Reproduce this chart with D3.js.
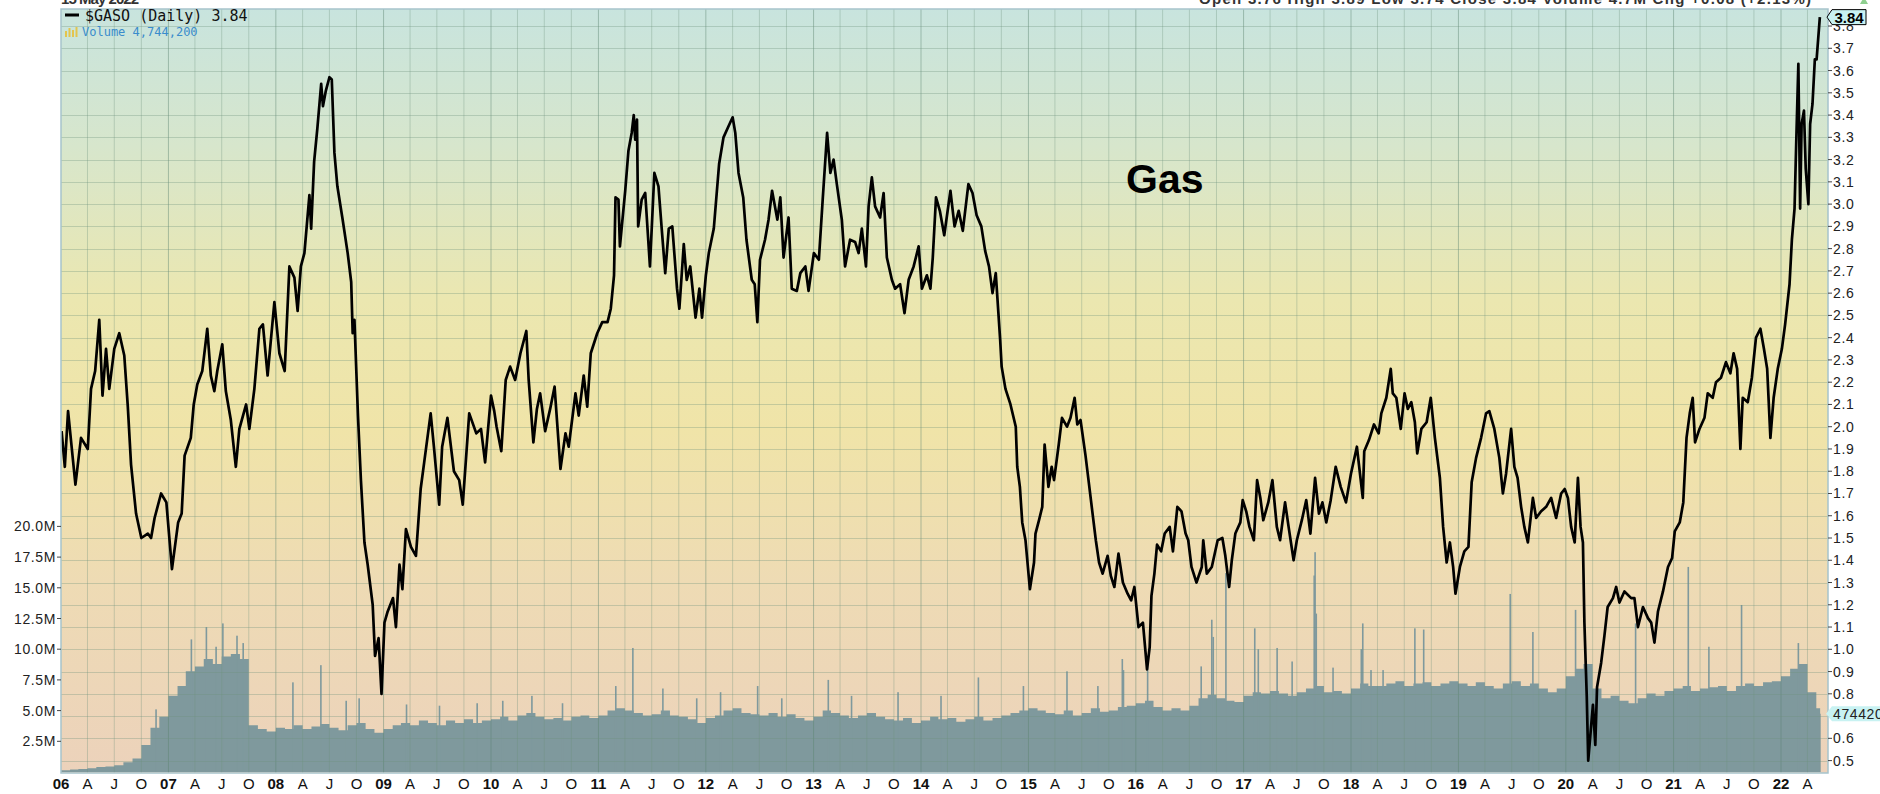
<!DOCTYPE html>
<html><head><meta charset="utf-8">
<script src="https://cdn.jsdelivr.net/npm/d3@7/dist/d3.min.js"></script>
<style>body{margin:0;background:#fff}svg{display:block}</style>
</head><body>
<svg id="chart" width="1880" height="794"></svg>
<script>
// ---------------- DATA ----------------
const price2006_2009 = [["2006-01-03",1.98],["2006-01-14",1.82],["2006-01-25",2.07],["2006-02-19",1.74],["2006-03-10",1.95],["2006-04-02",1.90],["2006-04-13",2.17],["2006-04-27",2.25],["2006-05-11",2.48],["2006-05-22",2.14],["2006-06-03",2.35],["2006-06-14",2.17],["2006-07-01",2.35],["2006-07-18",2.42],["2006-08-04",2.32],["2006-08-16",2.09],["2006-08-27",1.83],["2006-09-13",1.61],["2006-10-01",1.50],["2006-10-23",1.52],["2006-11-03",1.50],["2006-11-15",1.59],["2006-12-07",1.70],["2006-12-25",1.66],["2007-01-13",1.36],["2007-02-03",1.57],["2007-02-15",1.61],["2007-02-25",1.87],["2007-03-18",1.95],["2007-03-28",2.10],["2007-04-09",2.19],["2007-04-26",2.25],["2007-05-13",2.44],["2007-05-25",2.23],["2007-06-06",2.16],["2007-06-16",2.25],["2007-07-03",2.37],["2007-07-15",2.16],["2007-08-01",2.03],["2007-08-18",1.82],["2007-08-30",1.99],["2007-09-22",2.10],["2007-10-03",1.99],["2007-10-20",2.17],["2007-11-06",2.44],["2007-11-18",2.46],["2007-12-04",2.23],["2007-12-27",2.56],["2008-01-13",2.33],["2008-01-31",2.25],["2008-02-16",2.72],["2008-03-04",2.67],["2008-03-15",2.52],["2008-03-26",2.72],["2008-04-07",2.78],["2008-04-24",3.04],["2008-04-30",2.89],["2008-05-10",3.19],["2008-05-21",3.34],["2008-06-03",3.54],["2008-06-09",3.44],["2008-06-19",3.51],["2008-07-01",3.57],["2008-07-09",3.56],["2008-07-18",3.23],["2008-07-28",3.08],["2008-08-15",2.93],["2008-09-01",2.78],["2008-09-13",2.65],["2008-09-18",2.42],["2008-09-24",2.48],["2008-10-06",2.05],["2008-10-16",1.76],["2008-10-28",1.48],["2008-11-08",1.38],["2008-11-25",1.20],["2008-12-03",0.97],["2008-12-15",1.05],["2008-12-25",0.80],["2009-01-04",1.12],["2009-01-15",1.17],["2009-02-02",1.23],["2009-02-12",1.10],["2009-02-24",1.38],["2009-03-06",1.27],["2009-03-18",1.54],["2009-04-04",1.46],["2009-04-21",1.42],["2009-05-07",1.72],["2009-05-19",1.84],["2009-06-10",2.06],["2009-06-21",1.91],["2009-07-09",1.65],["2009-07-19",1.91],["2009-08-06",2.04],["2009-08-28",1.80],["2009-09-15",1.76],["2009-09-27",1.65],["2009-10-19",2.06],["2009-11-12",1.97],["2009-11-28",1.99],["2009-12-12",1.84]];

const price2010_2013 = [["2010-01-01",2.14],["2010-01-12",2.07],["2010-01-20",2.00],["2010-02-05",1.89],["2010-02-20",2.21],["2010-03-07",2.27],["2010-03-24",2.21],["2010-04-11",2.33],["2010-05-01",2.43],["2010-05-09",2.21],["2010-05-25",1.93],["2010-06-06",2.08],["2010-06-17",2.15],["2010-07-04",1.98],["2010-07-21",2.08],["2010-08-05",2.18],["2010-08-25",1.81],["2010-09-11",1.97],["2010-09-22",1.91],["2010-10-15",2.15],["2010-10-26",2.05],["2010-11-12",2.23],["2010-11-24",2.09],["2010-12-06",2.33],["2010-12-28",2.42],["2011-01-14",2.47],["2011-02-01",2.47],["2011-02-12",2.53],["2011-02-23",2.68],["2011-02-28",3.03],["2011-03-10",3.02],["2011-03-15",2.81],["2011-04-02",3.06],["2011-04-13",3.24],["2011-04-24",3.32],["2011-05-01",3.40],["2011-05-06",3.29],["2011-05-12",3.38],["2011-05-16",2.90],["2011-05-28",3.02],["2011-06-09",3.05],["2011-06-25",2.72],["2011-07-10",3.14],["2011-07-24",3.08],["2011-08-04",2.89],["2011-08-16",2.69],["2011-08-28",2.89],["2011-09-09",2.90],["2011-09-25",2.62],["2011-10-03",2.53],["2011-10-18",2.82],["2011-10-28",2.66],["2011-11-09",2.72],["2011-11-27",2.49],["2011-12-10",2.62],["2011-12-19",2.49],["2012-01-01",2.68],["2012-01-11",2.78],["2012-01-28",2.89],["2012-02-15",3.18],["2012-03-01",3.30],["2012-03-18",3.35],["2012-04-01",3.39],["2012-04-10",3.32],["2012-04-21",3.14],["2012-05-07",3.03],["2012-05-18",2.84],["2012-06-05",2.66],["2012-06-15",2.64],["2012-06-24",2.47],["2012-07-03",2.75],["2012-07-20",2.84],["2012-08-01",2.93],["2012-08-13",3.06],["2012-08-31",2.93],["2012-09-10",3.03],["2012-09-21",2.76],["2012-10-08",2.94],["2012-10-19",2.62],["2012-11-05",2.61],["2012-11-17",2.69],["2012-12-04",2.72],["2012-12-15",2.61],["2013-01-02",2.78],["2013-01-19",2.75],["2013-02-01",3.02],["2013-02-16",3.32],["2013-02-27",3.14],["2013-03-10",3.20],["2013-03-21",3.09],["2013-04-07",2.93],["2013-04-18",2.72],["2013-05-05",2.84],["2013-05-22",2.83],["2013-06-03",2.78],["2013-06-14",2.89],["2013-06-28",2.72],["2013-07-07",2.99],["2013-07-18",3.12],["2013-07-29",2.99],["2013-08-15",2.94],["2013-08-27",3.05],["2013-09-07",2.76],["2013-09-24",2.66],["2013-10-05",2.62],["2013-10-22",2.64],["2013-11-06",2.51],["2013-11-20",2.66],["2013-12-07",2.72],["2013-12-24",2.81]];

const price2014_2017 = [["2014-01-04",2.62],["2014-01-21",2.68],["2014-02-02",2.62],["2014-02-10",2.76],["2014-02-21",3.03],["2014-03-06",2.97],["2014-03-21",2.86],["2014-04-11",3.06],["2014-04-25",2.90],["2014-05-09",2.97],["2014-05-23",2.88],["2014-06-11",3.09],["2014-06-25",3.05],["2014-07-09",2.95],["2014-07-25",2.90],["2014-08-07",2.79],["2014-08-20",2.72],["2014-09-01",2.60],["2014-09-12",2.69],["2014-09-27",2.39],["2014-10-02",2.27],["2014-10-15",2.17],["2014-11-01",2.10],["2014-11-19",2.00],["2014-11-24",1.82],["2014-12-03",1.73],["2014-12-11",1.57],["2014-12-22",1.49],["2015-01-06",1.27],["2015-01-20",1.39],["2015-01-25",1.52],["2015-02-06",1.58],["2015-02-17",1.64],["2015-02-25",1.92],["2015-03-10",1.73],["2015-03-21",1.82],["2015-03-29",1.76],["2015-04-14",1.92],["2015-04-25",2.04],["2015-05-12",2.00],["2015-05-24",2.04],["2015-06-07",2.13],["2015-06-16",2.01],["2015-06-27",2.03],["2015-07-14",1.87],["2015-07-26",1.74],["2015-08-06",1.62],["2015-08-18",1.49],["2015-08-29",1.39],["2015-09-10",1.34],["2015-09-27",1.42],["2015-10-08",1.33],["2015-10-20",1.28],["2015-11-03",1.43],["2015-11-18",1.30],["2015-12-04",1.25],["2015-12-16",1.22],["2015-12-27",1.28],["2016-01-10",1.10],["2016-01-25",1.12],["2016-02-08",0.91],["2016-02-17",1.01],["2016-02-23",1.24],["2016-03-04",1.34],["2016-03-13",1.47],["2016-03-27",1.44],["2016-04-08",1.52],["2016-04-25",1.55],["2016-05-06",1.44],["2016-05-21",1.64],["2016-06-04",1.62],["2016-06-18",1.52],["2016-06-27",1.49],["2016-07-08",1.37],["2016-07-25",1.30],["2016-08-12",1.37],["2016-08-17",1.49],["2016-08-29",1.34],["2016-09-15",1.37],["2016-10-05",1.49],["2016-10-21",1.50],["2016-10-31",1.42],["2016-11-13",1.28],["2016-11-22",1.40],["2016-12-04",1.52],["2016-12-21",1.57],["2016-12-29",1.67],["2017-01-10",1.62],["2017-01-21",1.55],["2017-02-05",1.49],["2017-02-16",1.76],["2017-02-27",1.68],["2017-03-09",1.58],["2017-03-26",1.66],["2017-04-09",1.76],["2017-04-24",1.55],["2017-05-05",1.49],["2017-05-22",1.66],["2017-06-03",1.55],["2017-06-20",1.40],["2017-07-01",1.49],["2017-07-18",1.58],["2017-08-02",1.67],["2017-08-16",1.52],["2017-09-01",1.77],["2017-09-14",1.61],["2017-09-26",1.66],["2017-10-09",1.57],["2017-10-24",1.67],["2017-11-10",1.82],["2017-11-27",1.73],["2017-12-15",1.66]];

const price2018_2022 = [["2018-01-01",1.79],["2018-01-21",1.91],["2018-02-10",1.68],["2018-02-15",1.89],["2018-03-03",1.94],["2018-03-20",2.01],["2018-04-05",1.97],["2018-04-14",2.06],["2018-05-01",2.13],["2018-05-16",2.26],["2018-05-23",2.15],["2018-06-04",2.13],["2018-06-19",1.99],["2018-07-02",2.15],["2018-07-13",2.08],["2018-07-25",2.11],["2018-08-06",2.02],["2018-08-14",1.88],["2018-08-28",1.99],["2018-09-15",2.02],["2018-09-29",2.13],["2018-10-13",1.95],["2018-10-30",1.77],["2018-11-10",1.55],["2018-11-22",1.39],["2018-12-03",1.48],["2018-12-14",1.37],["2018-12-22",1.25],["2019-01-06",1.37],["2019-01-21",1.44],["2019-02-04",1.46],["2019-02-15",1.75],["2019-03-02",1.86],["2019-03-19",1.95],["2019-04-05",2.06],["2019-04-16",2.07],["2019-05-03",1.99],["2019-05-20",1.86],["2019-06-01",1.70],["2019-06-12",1.79],["2019-06-29",1.99],["2019-07-10",1.82],["2019-07-21",1.77],["2019-08-02",1.64],["2019-08-13",1.55],["2019-08-25",1.48],["2019-09-11",1.68],["2019-09-22",1.59],["2019-10-09",1.62],["2019-10-26",1.64],["2019-11-12",1.68],["2019-11-29",1.59],["2019-12-16",1.70],["2019-12-28",1.72],["2020-01-08",1.68],["2020-01-19",1.55],["2020-01-31",1.48],["2020-02-11",1.77],["2020-02-20",1.55],["2020-02-28",1.48],["2020-03-04",1.12],["2020-03-12",0.79],["2020-03-17",0.50],["2020-03-24",0.61],["2020-04-02",0.75],["2020-04-10",0.57],["2020-04-16",0.83],["2020-04-30",0.94],["2020-05-11",1.06],["2020-05-22",1.19],["2020-06-09",1.23],["2020-06-20",1.28],["2020-07-01",1.21],["2020-07-18",1.26],["2020-08-10",1.23],["2020-08-21",1.23],["2020-09-02",1.10],["2020-09-19",1.19],["2020-10-06",1.14],["2020-10-17",1.12],["2020-10-28",1.03],["2020-11-09",1.17],["2020-11-26",1.26],["2020-12-13",1.37],["2020-12-27",1.41],["2021-01-05",1.53],["2021-01-22",1.57],["2021-02-03",1.66],["2021-02-14",1.95],["2021-02-25",2.06],["2021-03-07",2.13],["2021-03-15",1.93],["2021-03-30",1.99],["2021-04-16",2.04],["2021-04-27",2.15],["2021-05-14",2.13],["2021-05-25",2.20],["2021-06-11",2.22],["2021-06-28",2.29],["2021-07-13",2.24],["2021-07-24",2.33],["2021-08-05",2.26],["2021-08-16",1.90],["2021-08-24",2.13],["2021-09-10",2.11],["2021-09-24",2.22],["2021-10-08",2.40],["2021-10-23",2.44],["2021-11-04",2.35],["2021-11-15",2.26],["2021-11-26",1.95],["2021-12-07",2.13],["2021-12-21",2.26],["2022-01-04",2.35],["2022-01-15",2.46],["2022-01-30",2.64],["2022-02-07",2.84],["2022-02-16",2.98],["2022-02-22",3.29],["2022-03-01",3.63],["2022-03-07",2.98],["2022-03-12",3.36],["2022-03-20",3.42],["2022-03-26",3.16],["2022-04-04",3.00],["2022-04-10",3.36],["2022-04-18",3.45],["2022-04-26",3.65],["2022-05-02",3.65],["2022-05-13",3.84]];

// monthly typical daily volume (millions), Jan of first year onward
const volMonthly2006_2011 = [0.15,0.2,0.25,0.3,0.4,0.45,0.55,0.8,1.1,2.2,3.6,4.5, 6.2,7.0,8.2,8.6,9.2,8.8,9.4,9.6,9.2,3.8,3.5,3.3, 3.6,3.5,3.8,3.5,3.7,3.9,3.6,3.4,3.8,4.0,3.5,3.2, 3.5,3.8,4.0,3.8,4.2,4.0,3.8,4.2,4.0,4.3,4.0,4.2, 4.3,4.5,4.2,4.6,4.8,4.5,4.3,4.4,4.2,4.5,4.6,4.4, 4.6,5.0,5.2,5.0,4.8,4.6,4.7,5.0,4.6,4.5,4.3,4.0];
const volMonthly2012_2017 = [4.4,4.6,5.0,5.2,4.8,4.7,4.6,4.8,4.5,4.7,4.4,4.2, 4.5,5.0,4.8,4.6,4.4,4.6,4.8,4.5,4.3,4.2,4.4,4.0, 4.2,4.5,4.3,4.4,4.1,4.3,4.5,4.2,4.4,4.6,4.8,5.0, 5.2,5.0,4.8,4.7,5.0,4.6,4.8,5.2,4.9,5.0,5.3,5.4, 5.6,5.8,5.3,5.0,5.2,5.0,5.4,6.0,6.3,6.0,5.8,5.7, 6.2,6.5,6.4,6.6,6.4,6.2,6.5,6.8,7.0,6.5,6.6,6.4];
const volMonthly2018_2022 = [6.8,7.2,7.0,7.0,7.2,7.4,7.0,7.2,7.3,7.0,7.2,7.4, 7.2,7.0,7.3,7.0,6.8,7.2,7.4,7.0,7.2,6.8,6.5,6.8, 7.8,8.4,8.8,6.8,6.0,6.2,5.8,5.6,6.0,6.4,6.2,6.6, 6.8,7.0,6.6,6.8,6.9,7.0,6.6,7.0,7.2,7.0,7.3,7.4, 7.8,8.4,8.8,6.5,5.2];
// single-day volume spikes (millions)
const volSpikes = [["2006-11-20",5.1],["2007-03-20",10.8],["2007-05-10",11.8],["2007-06-12",10.2],["2007-07-05",12.1],["2007-08-22",11.1],["2007-09-12",10.5],["2008-02-28",7.3],["2008-06-02",8.7],["2008-08-27",5.8],["2008-10-10",6.0],["2009-03-20",5.5],["2009-07-10",5.4],["2009-11-15",5.6],["2010-02-10",5.8],["2010-05-20",6.2],["2010-09-01",5.6],["2011-03-01",7.0],["2011-04-28",10.1],["2011-08-08",6.8],["2011-12-01",6.0],["2012-02-20",6.5],["2012-06-25",7.0],["2012-09-15",6.0],["2013-02-20",7.5],["2013-05-10",6.2],["2013-10-15",6.5],["2014-03-10",6.2],["2014-07-15",7.7],["2014-12-15",7.0],["2015-05-12",8.2],["2015-08-25",7.0],["2015-11-16",9.2],["2015-11-20",8.3],["2016-02-10",9.4],["2016-08-10",8.6],["2016-09-15",12.4],["2016-09-20",11.0],["2016-11-02",16.2],["2017-02-08",11.7],["2017-02-20",10.0],["2017-04-25",10.1],["2017-06-15",9.0],["2017-08-29",16.0],["2017-09-01",17.9],["2017-09-05",12.9],["2017-11-01",8.5],["2018-02-05",10.0],["2018-02-10",12.1],["2018-03-10",8.3],["2018-04-20",8.3],["2018-08-06",11.7],["2018-09-05",11.6],["2019-06-26",14.5],["2019-09-11",11.4],["2020-02-03",13.2],["2020-08-25",12.1],["2021-02-20",16.7],["2021-05-01",10.2],["2021-08-20",13.6],["2022-03-01",10.5],["2022-05-13",4.744]];

const priceTicks = [0.5,0.6,0.7,0.8,0.9,1.0,1.1,1.2,1.3,1.4,1.5,1.6,1.7,1.8,1.9,2.0,2.1,2.2,2.3,2.4,2.5,2.6,2.7,2.8,2.9,3.0,3.1,3.2,3.3,3.4,3.5,3.6,3.7,3.8];
const volumeTicks = [2.5,5,7.5,10,12.5,15,17.5,20];
const quarterLetters = ["", "A", "J", "O"];
const lastPrice = 3.84, lastVolume = 4744200;

// ---------------- CHART ----------------
const parse = d3.timeParse("%Y-%m-%d");
const prices = [].concat(price2006_2009, price2010_2013, price2014_2017, price2018_2022)
  .map(([d, v]) => ({date: parse(d), v}));
const volMonthly = [].concat(volMonthly2006_2011, volMonthly2012_2017, volMonthly2018_2022)
  .map((v, i) => ({date: d3.timeMonth.offset(new Date(2006, 0, 1), i), v}));
const endDate = parse("2022-05-14");
volMonthly.push({date: endDate, v: volMonthly[volMonthly.length - 1].v});

const L = 61, R = 1828, T = 9, B = 773;
const x = d3.scaleTime().domain([new Date(2006, 0, 1), new Date(2022, 0, 1)]).range([61, 1781]);
const y = d3.scaleLinear().domain([0.5, 3.7]).range([760.6, 48.3]);
const yv = d3.scaleLinear().domain([0, 20]).range([772, 526.4]);

const svg = d3.select("#chart");
const defs = svg.append("defs");
const grad = defs.append("linearGradient").attr("id", "bg").attr("x1", 0).attr("y1", 0).attr("x2", 0).attr("y2", 1);
[[0, "#c8e4de"], [0.18, "#d7e6cc"], [0.38, "#ebe7b0"], [0.55, "#f0e4a8"], [0.75, "#eedbb4"], [1, "#ecd2bb"]]
  .forEach(([o, c]) => grad.append("stop").attr("offset", o).attr("stop-color", c));
defs.append("clipPath").attr("id", "clip").append("rect").attr("x", L).attr("y", T).attr("width", R - L).attr("height", B - T);

svg.append("rect").attr("x", L).attr("y", T).attr("width", R - L).attr("height", B - T).attr("fill", "url(#bg)");

const plot = svg.append("g").attr("clip-path", "url(#clip)");

// volume base (step area) and spikes
plot.append("path").datum(volMonthly)
  .attr("d", d3.area().curve(d3.curveStepAfter).x(d => x(d.date)).y0(yv(0)).y1(d => yv(d.v)))
  .attr("fill", "#7f999d");
plot.append("g").selectAll("rect").data(volSpikes).join("rect")
  .attr("x", d => x(parse(d[0])) - 0.8).attr("width", 1.6)
  .attr("y", d => yv(d[1])).attr("height", d => yv(0) - yv(d[1]))
  .attr("fill", "#7f999d");

// grid
const quarters = d3.timeMonth.every(3).range(new Date(2006, 0, 1), endDate);
plot.append("g").selectAll("line").data(quarters.slice(1)).join("line")
  .attr("x1", d => x(d)).attr("x2", d => x(d)).attr("y1", T).attr("y2", B)
  .attr("stroke", d => d.getMonth() === 0 ? "rgba(90,130,110,0.45)" : "rgba(110,145,125,0.33)").attr("stroke-width", 1);
plot.append("g").selectAll("line").data(priceTicks).join("line")
  .attr("x1", L).attr("x2", R).attr("y1", d => Math.round(y(d)) + 0.5).attr("y2", d => Math.round(y(d)) + 0.5)
  .attr("stroke", "rgba(110,145,125,0.33)").attr("stroke-width", 1);

// price line
plot.append("path").datum(prices)
  .attr("d", d3.line().x(d => x(d.date)).y(d => y(d.v)))
  .attr("fill", "none").attr("stroke", "#000").attr("stroke-width", 2.7).attr("stroke-linejoin", "round");

// frame
svg.append("rect").attr("x", L).attr("y", T).attr("width", R - L).attr("height", B - T)
  .attr("fill", "none").attr("stroke", "#a6c3cc").attr("stroke-width", 1.5);

// right price axis
const ra = svg.append("g");
ra.selectAll("line").data(priceTicks).join("line")
  .attr("x1", R).attr("x2", R + 4).attr("y1", d => y(d)).attr("y2", d => y(d)).attr("stroke", "#444");
ra.selectAll("text").data(priceTicks).join("text")
  .attr("x", R + 5).attr("y", d => y(d) + 5)
  .attr("font-family", "Liberation Sans, Arial, sans-serif").attr("font-size", 14).attr("letter-spacing", 0.6)
  .attr("fill", "#222").text(d => d.toFixed(1));

// left volume axis
const la = svg.append("g");
la.selectAll("line").data(volumeTicks).join("line")
  .attr("x1", L - 4).attr("x2", L).attr("y1", d => yv(d)).attr("y2", d => yv(d)).attr("stroke", "#444");
la.selectAll("text").data(volumeTicks).join("text")
  .attr("x", L - 5).attr("y", d => yv(d) + 5).attr("text-anchor", "end")
  .attr("font-family", "Liberation Sans, Arial, sans-serif").attr("font-size", 14).attr("letter-spacing", 0.6)
  .attr("fill", "#222").text(d => d.toFixed(1) + "M");

// bottom time axis
const ba = svg.append("g");
ba.selectAll("text").data(quarters).join("text")
  .attr("x", d => x(d)).attr("y", 789).attr("text-anchor", "middle")
  .attr("font-family", "Liberation Sans, Arial, sans-serif").attr("font-size", 15)
  .attr("font-weight", d => d.getMonth() === 0 ? "bold" : "normal")
  .attr("fill", "#111")
  .text(d => d.getMonth() === 0 ? d3.timeFormat("%y")(d) : quarterLetters[d.getMonth() / 3]);

// last price marker
const ly = y(lastPrice);
svg.append("path")
  .attr("d", `M${R - 1},${ly} L${R + 4},${ly - 7.5} L${R + 38},${ly - 7.5} L${R + 38},${ly + 7.5} L${R + 4},${ly + 7.5} Z`)
  .attr("fill", "#c8f2f2").attr("stroke", "#000").attr("stroke-width", 1);
svg.append("text").attr("x", R + 21).attr("y", ly + 5.5).attr("text-anchor", "middle")
  .attr("font-family", "Liberation Sans, Arial, sans-serif").attr("font-size", 15).attr("font-weight", "bold")
  .attr("fill", "#000").text(lastPrice.toFixed(2));

// last volume marker
const lvy = yv(lastVolume / 1e6);
svg.append("path")
  .attr("d", `M${R - 2},${lvy} L${R + 4},${lvy - 7.5} L${1880},${lvy - 7.5} L${1880},${lvy + 7.5} L${R + 4},${lvy + 7.5} Z`)
  .attr("fill", "#c8f2f2");
svg.append("text").attr("x", R + 5).attr("y", lvy + 5)
  .attr("font-family", "Liberation Sans, Arial, sans-serif").attr("font-size", 14).attr("letter-spacing", 0.6)
  .attr("fill", "#222").text(String(lastVolume));

// legend
svg.append("rect").attr("x", 65).attr("y", 13.5).attr("width", 14).attr("height", 3).attr("fill", "#000");
svg.append("text").attr("x", 85).attr("y", 20.5)
  .attr("font-family", "DejaVu Sans Mono, monospace").attr("font-size", 15).attr("fill", "#111")
  .text("$GASO (Daily) " + lastPrice.toFixed(2));
[[65, 31], [68.5, 28], [72, 30], [75.5, 27]].forEach(([bx, by]) =>
  svg.append("rect").attr("x", bx).attr("y", by).attr("width", 2).attr("height", 37 - by).attr("fill", "#e3c54e"));
svg.append("text").attr("x", 82).attr("y", 36)
  .attr("font-family", "DejaVu Sans Mono, monospace").attr("font-size", 12).attr("fill", "#3a8ccc")
  .text("Volume " + d3.format(",")(lastVolume));

// header (partially cut at top edge)
svg.append("text").attr("x", 61).attr("y", 4)
  .attr("font-family", "Liberation Sans, Arial, sans-serif").attr("font-size", 15).attr("font-weight", "bold").attr("fill", "#333")
  .attr("textLength", 78).attr("lengthAdjust", "spacing")
  .text("15 May 2022");
svg.append("text").attr("x", 1199).attr("y", 4)
  .attr("font-family", "Liberation Sans, Arial, sans-serif").attr("font-size", 15).attr("font-weight", "bold").attr("fill", "#333")
  .attr("textLength", 612).attr("lengthAdjust", "spacing")
  .text("Open 3.76  High 3.89  Low 3.74  Close 3.84  Volume 4.7M  Chg +0.08 (+2.13%)");
svg.append("path").attr("d", "M1860,4 L1864,-3 L1868,4 Z").attr("fill", "#8fcf8f");

// title
svg.append("text").attr("x", 1126).attr("y", 193)
  .attr("font-family", "Liberation Sans, Arial, sans-serif").attr("font-size", 41).attr("font-weight", "bold")
  .attr("fill", "#000").text("Gas");
</script>
</body></html>
